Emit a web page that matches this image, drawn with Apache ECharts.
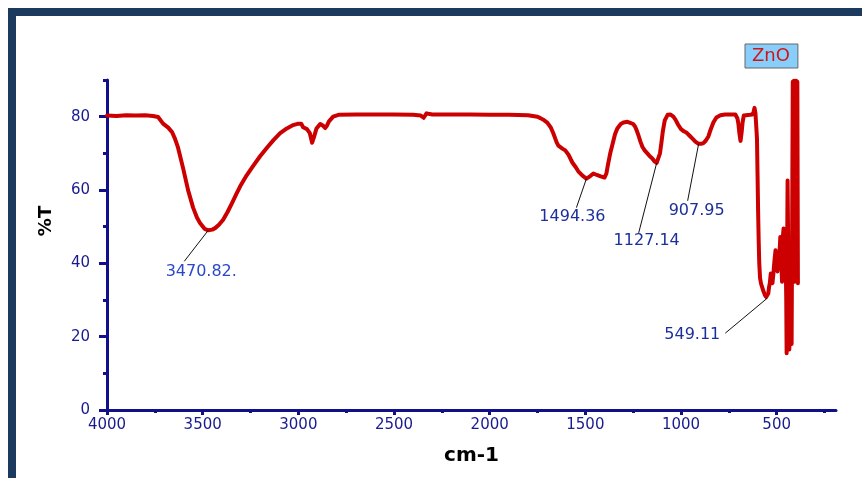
<!DOCTYPE html>
<html>
<head>
<meta charset="utf-8">
<script src="https://cdn.jsdelivr.net/npm/echarts@6/dist/echarts.min.js"></script>
<style>
  html, body { margin: 0; padding: 0; background: #ffffff; }
  #chart { width: 862px; height: 478px; }
</style>
</head>
<body>
<div id="chart"></div>
<script>
// FTIR transmittance spectrum of ZnO (wavenumber in cm-1, %T)
const seriesName = 'ZnO';

const wavenumber = [
  4000, 3950, 3900, 3850, 3800, 3760, 3733, 3707, 3680, 3660, 3645, 3629, 3603, 3576, 3550,
  3530, 3513, 3490, 3470.82, 3450, 3435, 3415, 3393, 3370, 3346, 3325, 3304, 3270, 3236, 3200,
  3163, 3130, 3095, 3060, 3027, 3000, 2985, 2975, 2955, 2940, 2928, 2918, 2905, 2886, 2870,
  2860, 2850, 2840, 2818, 2790, 2700, 2600, 2500, 2400, 2360, 2345, 2330, 2300, 2200, 2100,
  2000, 1900, 1800, 1750, 1735, 1715, 1699, 1680, 1667, 1650, 1641, 1620, 1605, 1589, 1568,
  1550, 1537, 1515, 1494.36, 1474, 1458, 1440, 1420, 1400, 1390, 1380, 1370, 1359, 1345, 1333,
  1315, 1301, 1280, 1265, 1250, 1239, 1230, 1223, 1212, 1202, 1190, 1176, 1163, 1150, 1140,
  1127.14, 1118, 1110, 1103, 1095, 1085, 1070, 1055, 1040, 1029, 1015, 1000, 985, 970, 955,
  940, 925, 907.95, 895, 883, 870, 857, 845, 831, 815, 794, 770, 742, 716, 705,
  700, 695, 689, 683, 678, 672, 660, 640, 627, 620, 616, 611, 606, 603, 600,
  597, 594, 591, 587, 582, 576, 570, 562, 555, 549.11, 544, 540, 536, 531, 526,
  522, 517, 512, 506, 501, 496, 491, 486, 481, 476, 472, 468, 464, 461, 458,
  454, 450, 448, 446, 443, 440, 437, 434, 431, 428, 425, 422, 419, 416, 413,
  410, 407, 404, 401, 398, 395, 392, 389
];

const transmittance = [
  80.3, 80.2, 80.4, 80.3, 80.4, 80.2, 79.9, 78.1, 77.0, 75.8, 74.0, 71.6, 66.1, 59.9, 55.2,
  52.5, 50.9, 49.4, 49.0, 49.2, 49.6, 50.5, 51.9, 54.0, 56.5, 58.8, 61.0, 64.0, 66.6, 69.2,
  71.6, 73.6, 75.5, 76.8, 77.7, 78.1, 78.1, 77.1, 76.6, 75.5, 72.9, 74.5, 76.8, 78.0, 77.5,
  76.9, 77.6, 78.7, 80.0, 80.5, 80.6, 80.6, 80.6, 80.5, 80.3, 79.7, 80.9, 80.6, 80.6, 80.6,
  80.5, 80.5, 80.4, 80.0, 79.6, 79.0, 78.4, 77.0, 75.4, 73.0, 72.1, 71.3, 70.8, 69.7, 67.5,
  66.2, 65.1, 63.9, 63.1, 63.8, 64.5, 64.1, 63.7, 63.4, 64.5, 67.4, 70.0, 72.3, 75.2, 76.8,
  78.0, 78.4, 78.6, 78.3, 78.0, 77.2, 76.0, 75.0, 73.2, 71.8, 70.8, 70.0, 69.2, 68.6, 67.9,
  67.4, 67.8, 70.0, 72.7, 76.0, 79.0, 80.5, 80.6, 80.0, 79.2, 77.8, 76.6, 76.0, 75.6, 74.8,
  74.0, 73.2, 72.6, 72.6, 72.8, 73.5, 74.6, 76.5, 78.4, 79.8, 80.4, 80.6, 80.6, 80.6, 79.5,
  78.0, 75.5, 73.4, 75.8, 78.5, 80.3, 80.4, 80.5, 80.6, 81.4, 82.4, 81.0, 80.5, 74.0, 64.0,
  54.0, 46.0, 40.0, 36.0, 34.5, 33.5, 32.5, 31.4, 30.8, 30.5, 31.8, 33.5, 34.5, 37.2, 35.2,
  34.6, 37.3, 40.5, 43.6, 38.5, 37.8, 38.2, 42.0, 47.2, 41.0, 35.0, 47.0, 49.5, 42.0, 40.5,
  46.0, 30.0, 15.5, 38.0, 62.6, 45.0, 28.0, 16.5, 22.0, 18.5, 35.0, 18.0, 52.0, 89.5, 36.0,
  89.8, 35.0, 89.8, 35.5, 89.8, 36.0, 89.5, 34.6
];

const xMajorTicks = [4000, 3500, 3000, 2500, 2000, 1500, 1000, 500];
const xMinorTicks = [3750, 3250, 2750, 2250, 1750, 1250, 750, 250];
const yMajorTicks = [0, 20, 40, 60, 80];
const yMinorTicks = [10, 30, 50, 70, 90];

// Marked absorption bands
const peakWavenumber = [3470.82, 1494.36, 1127.14, 907.95, 549.11];
const peakLabels = ['3470.82.', '1494.36', '1127.14', '907.95', '549.11'];

// Leader line end and label centre, in pixels relative to the band point
const calloutLayout = [
  { line: [-24, 31], text: [-7, 42], color: '#2a48c8' },
  { line: [-10, 29], text: [-14, 38], color: '#1c2f9a' },
  { line: [-18, 70], text: [-10, 78], color: '#1c2f9a' },
  { line: [-11, 57], text: [-2, 67], color: '#1c2f9a' },
  { line: [-42, 35], text: [-75, 37], color: '#1c2f9a' }
];

const spectrum = wavenumber.map((w, i) => [w, transmittance[i]]);
const peaks = peakWavenumber.map(w => [w, transmittance[wavenumber.indexOf(w)]]);

const axisColor = '#10108c';
const labelColor = '#1a1a8f';
const labelFont = 'DejaVu Sans';
const plainNumber = v => String(v);

const chart = echarts.init(document.getElementById('chart'), null, { renderer: 'canvas' });

chart.setOption({
  animation: false,
  backgroundColor: '#ffffff',
  grid: { left: 107, right: 26, top: 80, bottom: 68 },
  graphic: [{
    type: 'rect',
    silent: true,
    z: -1,
    shape: { x: 12, y: 12, width: 900, height: 500 },
    style: { fill: null, stroke: '#1b3a5e', lineWidth: 8 }
  }],
  legend: {
    data: [seriesName],
    left: 745,
    top: 44,
    icon: 'rect',
    itemWidth: 0,
    itemHeight: 0,
    padding: [3, 8, 3, 2],
    backgroundColor: '#87cefa',
    borderColor: '#666666',
    borderWidth: 1,
    selectedMode: false,
    textStyle: { color: '#d01616', fontSize: 18, fontFamily: labelFont }
  },
  xAxis: [{
    type: 'value',
    inverse: true,
    min: 190,
    max: 4000,
    position: 'bottom',
    name: 'cm-1',
    nameLocation: 'middle',
    nameGap: 36,
    nameTextStyle: { color: '#000', fontSize: 20, fontWeight: 'bold', fontFamily: labelFont },
    axisLine: { show: true, onZero: false, lineStyle: { color: axisColor, width: 3 } },
    axisTick: { show: true, customValues: xMajorTicks, length: 5, lineStyle: { color: axisColor, width: 3 } },
    axisLabel: { customValues: xMajorTicks, formatter: plainNumber, color: labelColor, fontSize: 15, fontFamily: labelFont, margin: 8 },
    splitLine: { show: false }
  }, {
    type: 'value',
    inverse: true,
    min: 190,
    max: 4000,
    position: 'bottom',
    axisLine: { show: false, onZero: false },
    axisTick: { show: true, customValues: xMinorTicks, length: 3, lineStyle: { color: axisColor, width: 3 } },
    axisLabel: { show: false },
    splitLine: { show: false }
  }],
  yAxis: [{
    type: 'value',
    min: 0,
    max: 90,
    position: 'left',
    name: '%T',
    nameLocation: 'middle',
    nameRotate: 90,
    nameGap: 52,
    nameTextStyle: { color: '#000', fontSize: 18, fontWeight: 'bold', fontFamily: labelFont, padding: [0, 0, 0, 48] },
    axisLine: { show: true, onZero: false, lineStyle: { color: axisColor, width: 3 } },
    axisTick: { show: true, customValues: yMajorTicks, length: 8, lineStyle: { color: axisColor, width: 3 } },
    axisLabel: { customValues: yMajorTicks, formatter: plainNumber, color: labelColor, fontSize: 15, fontFamily: labelFont, margin: 17 },
    splitLine: { show: false }
  }, {
    type: 'value',
    min: 0,
    max: 90,
    position: 'left',
    axisLine: { show: false, onZero: false },
    axisTick: { show: true, customValues: yMinorTicks, length: 4, lineStyle: { color: axisColor, width: 3 } },
    axisLabel: { show: false },
    splitLine: { show: false }
  }],
  series: [{
    name: seriesName,
    type: 'line',
    xAxisIndex: 0,
    yAxisIndex: 0,
    data: spectrum,
    showSymbol: false,
    symbol: 'none',
    color: '#cc0000',
    lineStyle: { color: '#cc0000', width: 4, cap: 'round', join: 'round' },
    z: 3
  }, {
    name: 'bands',
    type: 'custom',
    xAxisIndex: 0,
    yAxisIndex: 0,
    data: peaks,
    z: 4,
    silent: true,
    renderItem: function (params, api) {
      const p = api.coord([api.value(0), api.value(1)]);
      const c = calloutLayout[params.dataIndex];
      return {
        type: 'group',
        children: [{
          type: 'line',
          shape: { x1: p[0], y1: p[1], x2: p[0] + c.line[0], y2: p[1] + c.line[1] },
          style: { stroke: '#111111', lineWidth: 1 }
        }, {
          type: 'text',
          x: p[0] + c.text[0],
          y: p[1] + c.text[1],
          style: {
            text: peakLabels[params.dataIndex],
            fill: c.color,
            fontSize: 16,
            fontFamily: labelFont,
            align: 'center',
            verticalAlign: 'middle'
          }
        }]
      };
    }
  }]
});
</script>
</body>
</html>
